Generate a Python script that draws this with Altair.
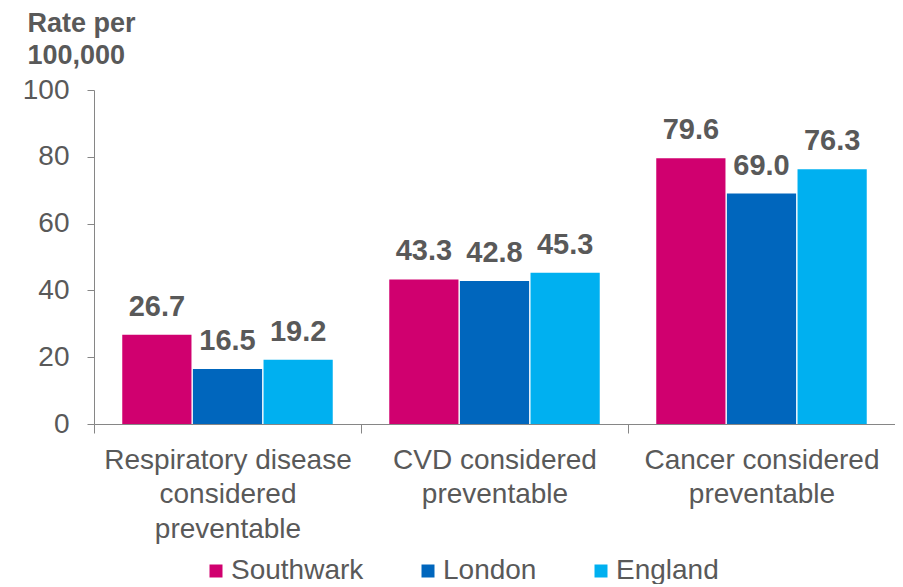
import altair as alt
import pandas as pd

categories = ["Respiratory disease|considered|preventable", "CVD considered|preventable", "Cancer considered|preventable"]
series = ["Southwark", "London", "England"]
southwark = [26.7, 43.3, 79.6]
london = [16.5, 42.8, 69.0]
england = [19.2, 45.3, 76.3]
colors = ["#D0006F", "#0066BD", "#00B0F0"]

rows = []
for i, c in enumerate(categories):
    for s, vals in zip(series, [southwark, london, england]):
        rows.append({"cause": c, "area": s, "rate": vals[i]})
df = pd.DataFrame(rows)

FONT = "Liberation Sans"
TXT = "#595959"
AX = "#868686"

base = alt.Chart(df).encode(
    x=alt.X("cause:N", sort=categories,
            scale=alt.Scale(paddingInner=0, paddingOuter=0),
            axis=alt.Axis(title=None, labelAngle=0, labelExpr="split(datum.label, '|')",
                          labelFont=FONT, labelFontSize=28, labelColor=TXT,
                          labelBaseline="alphabetic", labelPadding=35, labelLineHeight=34.5,
                          tickBand="extent", tickSize=9, tickColor=AX, domainColor=AX,
                          labelLimit=400)),
    xOffset=alt.XOffset("area:N", sort=series,
                        scale=alt.Scale(paddingInner=0.02, paddingOuter=0.4)),
)

bars = base.mark_bar().encode(
    y=alt.Y("rate:Q", scale=alt.Scale(domain=[0, 100], nice=False),
            axis=alt.Axis(values=[0, 20, 40, 60, 80, 100], grid=False,
                          title=["Rate per", "100,000"], titleAngle=0, titleAlign="left",
                          titleBaseline="alphabetic", titleX=-67, titleY=-59,
                          titleFont=FONT, titleFontSize=27, titleFontWeight="bold",
                          titleColor=TXT, titleLineHeight=32,
                          labelFont=FONT, labelFontSize=28, labelColor=TXT,
                          labelPadding=18, tickSize=7, tickColor=AX, domainColor=AX)),
    color=alt.Color("area:N", sort=series,
                    scale=alt.Scale(domain=series, range=colors),
                    legend=alt.Legend(title=None, orient="none", direction="horizontal",
                                      legendX=108, legendY=467,
                                      symbolType="square", symbolSize=169,
                                      symbolStrokeWidth=0,
                                      labelFont=FONT, labelFontSize=28, labelColor=TXT,
                                      labelOffset=1, columnPadding=50)),
)

labels = base.mark_text(font=FONT, fontSize=29, fontWeight="bold", color=TXT,
                        baseline="alphabetic", dy=-19).encode(
    y=alt.Y("rate:Q"),
    text=alt.Text("rate:Q", format=".1f"),
)

chart = alt.layer(bars, labels).properties(
    width=801, height=334,
    autosize=alt.AutoSizeParams(type="none"),
    padding={"left": 86, "top": 82, "right": 0, "bottom": 160},
).configure_view(stroke=None)

chart.save("out.html", embed_options={"renderer": "svg", "actions": False})
